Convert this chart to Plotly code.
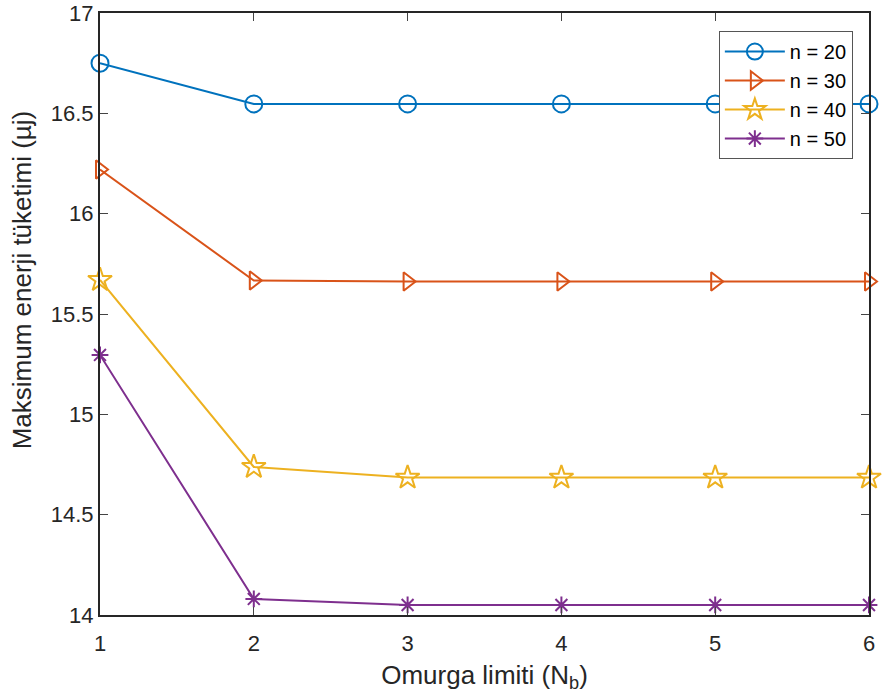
import plotly.graph_objects as go

x_vals = [1, 2, 3, 4, 5, 6]
n20 = [16.75, 16.547, 16.547, 16.547, 16.547, 16.547]
n30 = [16.22, 15.667, 15.662, 15.662, 15.662, 15.662]
n40 = [15.67, 14.738, 14.685, 14.685, 14.685, 14.685]
n50 = [15.296, 14.08, 14.05, 14.05, 14.05, 14.05]
names = ["n = 20", "n = 30", "n = 40", "n = 50"]
colors = ["#0072BD", "#D95319", "#EDB120", "#7E2F8E"]
symbols = ["circle-open", "triangle-right-open", "star-open", "asterisk-open"]
sizes = [17, 16, 18, 14]

fig = go.Figure()
for ys, nm, c, s, sz in zip([n20, n30, n40, n50], names, colors, symbols, sizes):
    fig.add_trace(go.Scatter(
        x=x_vals, y=ys, name=nm, mode="lines+markers",
        line=dict(color=c, width=2),
        marker=dict(symbol=s, size=sz, color=c, line=dict(color=c, width=2)),
        cliponaxis=False,
    ))

fig.update_layout(
    width=889, height=700,
    margin=dict(l=100, r=20, t=13, b=85, autoexpand=False),
    paper_bgcolor="white", plot_bgcolor="white",
    font=dict(family="Liberation Sans, Arial", size=22, color="#262626"),
    showlegend=True,
    legend=dict(
        x=0.979, y=0.970, xanchor="right", yanchor="top",
        bgcolor="white", bordercolor="#555555", borderwidth=1,
        font=dict(size=20, color="#000000"),
        itemwidth=60, tracegroupgap=0,
    ),
    annotations=[dict(
        text="Maksimum enerji tüketimi (µj)", textangle=-90,
        xref="paper", yref="paper", x=-0.1014, y=0.556,
        xanchor="center", yanchor="middle", showarrow=False,
        font=dict(size=26, color="#262626"),
    )],
)
fig.update_xaxes(
    range=[1, 6], tickvals=x_vals, ticks="inside", ticklen=8,
    ticklabelstandoff=8,
    showline=True, linecolor="#262626", linewidth=2, mirror="ticks",
    showgrid=False, zeroline=False, automargin=False,
    title=dict(text="Omurga limiti (N<sub>b</sub>)", font=dict(size=26), standoff=10),
)
fig.update_yaxes(
    range=[14, 17], tickvals=[14, 14.5, 15, 15.5, 16, 16.5, 17],
    ticktext=["14", "14.5", "15", "15.5", "16", "16.5", "17"],
    ticks="inside", ticklen=8,
    showline=True, linecolor="#262626", linewidth=2, mirror="ticks",
    showgrid=False, zeroline=False, automargin=False,
)

fig.write_html("out.html")
